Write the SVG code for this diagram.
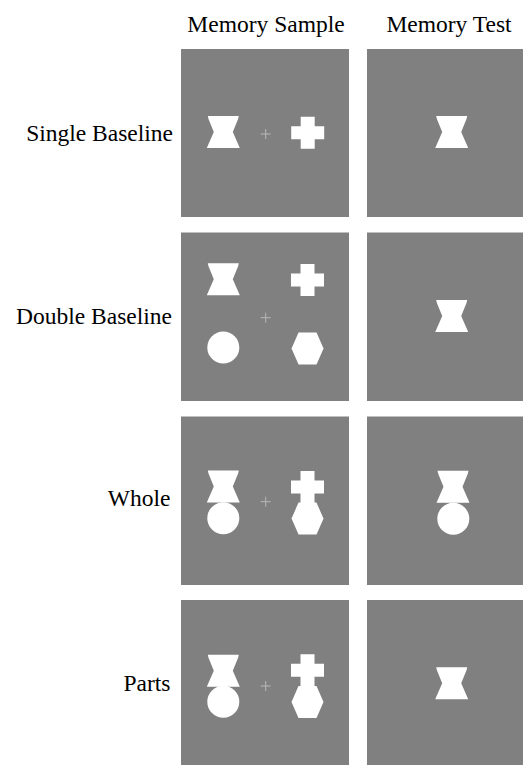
<svg xmlns="http://www.w3.org/2000/svg" xmlns:xlink="http://www.w3.org/1999/xlink" width="523" height="765" viewBox="0 0 523 765">
<style>
.panel{fill:#808080}
.lbl{font-family:'Liberation Serif','Times New Roman',serif;font-size:23.5px;fill:#000}
.fix{stroke:#b8b8b8;stroke-width:1;fill:none}
.shape{fill:#fff}
</style>
<defs>
<polygon id="hg" class="shape" points="-15.5,-16 15.5,-16 14.8,-13 9.5,0 16.5,16 -16.5,16 -9.5,0 -14.8,-13"/>
<polygon id="cr" class="shape" points="-7,-16 7,-16 7,-6.5 16.5,-6.5 16.5,6.5 7,6.5 7,16 -7,16 -7,6.5 -16.5,6.5 -16.5,-6.5 -7,-6.5"/>
<circle id="ci" class="shape" r="16"/>
<polygon id="hx" class="shape" points="-16,0 -9,-16 9,-16 16,0 9,16 -9,16"/>
<path id="fx" class="fix" d="M-5,0H5M0,-5V5"/>
</defs>
<rect width="523" height="765" fill="#fff"/>
<g id="headers">
<text class="lbl" x="266" y="32" text-anchor="middle">Memory Sample</text>
<text class="lbl" x="449" y="32" text-anchor="middle">Memory Test</text>
</g>
<g id="row-single">
<text class="lbl" x="173" y="141" text-anchor="end">Single Baseline</text>
<rect class="panel" x="181" y="49" width="168" height="168"/>
<rect class="panel" x="367" y="49" width="168" height="168"/>
<use xlink:href="#hg" x="223.3" y="132"/>
<use xlink:href="#cr" x="307.7" y="132.7"/>
<use xlink:href="#fx" x="265.7" y="134"/>
<use xlink:href="#hg" x="451.7" y="132"/>
</g>
<g id="row-double">
<text class="lbl" x="172" y="324" text-anchor="end">Double Baseline</text>
<rect class="panel" x="181" y="232.5" width="168" height="168.5"/>
<rect class="panel" x="367" y="232.5" width="168" height="168.5"/>
<use xlink:href="#hg" x="223.3" y="279.3"/>
<use xlink:href="#cr" x="307.5" y="280"/>
<use xlink:href="#ci" x="223.3" y="347.5"/>
<use xlink:href="#hx" x="307.5" y="348.5"/>
<use xlink:href="#fx" x="265.7" y="317.7"/>
<use xlink:href="#hg" x="451.7" y="316"/>
</g>
<g id="row-whole">
<text class="lbl" x="170.5" y="506" text-anchor="end">Whole</text>
<rect class="panel" x="181" y="416.5" width="168" height="168.5"/>
<rect class="panel" x="367" y="416.5" width="168" height="168.5"/>
<use xlink:href="#ci" x="223.3" y="518.2"/>
<use xlink:href="#hg" x="223.3" y="486.5"/>
<use xlink:href="#hx" x="307.5" y="518.5"/>
<use xlink:href="#cr" x="307.5" y="487"/>
<use xlink:href="#fx" x="265.7" y="501.7"/>
<use xlink:href="#ci" x="453.3" y="518.8"/>
<use xlink:href="#hg" x="453" y="486.7"/>
</g>
<g id="row-parts">
<text class="lbl" x="170.5" y="691" text-anchor="end">Parts</text>
<rect class="panel" x="181" y="600" width="168" height="168"/>
<rect class="panel" x="367" y="600" width="168" height="168"/>
<use xlink:href="#ci" x="223.3" y="701.8"/>
<use xlink:href="#hg" x="223.3" y="670.8"/>
<use xlink:href="#hx" x="307.5" y="702"/>
<use xlink:href="#cr" x="307.5" y="670.3"/>
<use xlink:href="#fx" x="265.7" y="686"/>
<use xlink:href="#hg" x="451.7" y="683.3"/>
</g>
<g id="connectors"/>
</svg>
